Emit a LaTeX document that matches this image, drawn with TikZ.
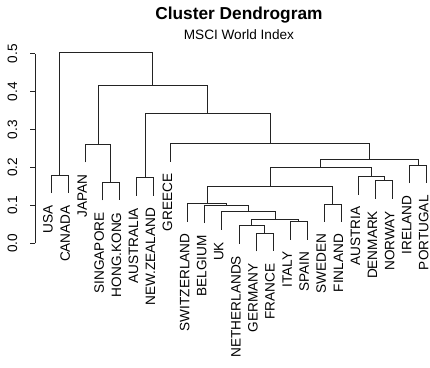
\documentclass[tikz,border=0pt]{standalone}
\usepackage{fontspec}
\setmainfont{Liberation Sans}
\definecolor{treeGray}{RGB}{35,35,35}
\newcommand\lblsize{\fontsize{13.6}{16}\selectfont}
\newcommand\hang{0.0475}

\begin{document}
\begin{tikzpicture}[
  x=1pt, y=1pt,
  branch/.style={line width=0.75pt, draw=treeGray},
  leaflabel/.style={rotate=90, anchor=east, inner sep=0pt, font=\lblsize},
  ticklabel/.style={rotate=90, anchor=base, inner sep=0pt, font=\lblsize}
]
\useasboundingbox (0,0) rectangle (430,367);

\node[anchor=base, font=\fontsize{17.3}{20}\selectfont\bfseries] (title) at (238.9,347.5) {Cluster Dendrogram};
\node[anchor=base, font=\lblsize] (subtitle) at (238.9,327.6) {MSCI World Index};

% height axis
\begin{scope}[y=379pt, yshift=123.7pt]
\coordinate (axbot) at (35,0);
\coordinate (axtop) at (35,0.5);
\draw[branch] (axbot) -- (axtop);
\foreach \t [count=\i] in {0.0,0.1,0.2,0.3,0.4,0.5} {
  \coordinate (tick\i) at (35,\t);
  \node[ticklabel] (tl\i) at (17.2,\t) {\t};
  \draw[branch] (tick\i) -- ++(-5,0);
}
\end{scope}

% leaves and merges, x = leaf index, y = height
\begin{scope}[x=17.08pt, y=379pt, shift={(51pt,123.7pt)}]
\coordinate (usa) at (0,{0.180-\hang});
\coordinate (canada) at (1,{0.180-\hang});
\coordinate (japan) at (2,{0.261-\hang});
\coordinate (singapore) at (3,{0.161-\hang});
\coordinate (hongkong) at (4,{0.161-\hang});
\coordinate (australia) at (5,{0.173-\hang});
\coordinate (newzealand) at (6,{0.173-\hang});
\coordinate (greece) at (7,{0.263-\hang});
\coordinate (switzerland) at (8,{0.105-\hang});
\coordinate (belgium) at (9,{0.101-\hang});
\coordinate (uk) at (10,{0.083-\hang});
\coordinate (netherlands) at (11,{0.046-\hang});
\coordinate (germany) at (12,{0.026-\hang});
\coordinate (france) at (13,{0.026-\hang});
\coordinate (italy) at (14,{0.057-\hang});
\coordinate (spain) at (15,{0.057-\hang});
\coordinate (sweden) at (16,{0.104-\hang});
\coordinate (finland) at (17,{0.104-\hang});
\coordinate (austria) at (18,{0.176-\hang});
\coordinate (denmark) at (19,{0.165-\hang});
\coordinate (norway) at (20,{0.165-\hang});
\coordinate (ireland) at (21,{0.206-\hang});
\coordinate (portugal) at (22,{0.206-\hang});

\node[leaflabel] (usaL) at ([shift={(-3pt,-12pt)}]usa) {USA};
\node[leaflabel] (canadaL) at ([shift={(-3pt,-12pt)}]canada) {CANADA};
\node[leaflabel] (japanL) at ([shift={(-3pt,-12pt)}]japan) {JAPAN};
\node[leaflabel] (singaporeL) at ([shift={(-3pt,-12pt)}]singapore) {SINGAPORE};
\node[leaflabel] (hongkongL) at ([shift={(-3pt,-12pt)}]hongkong) {HONG.KONG};
\node[leaflabel] (australiaL) at ([shift={(-3pt,-12pt)}]australia) {AUSTRALIA};
\node[leaflabel] (newzealandL) at ([shift={(-3pt,-12pt)}]newzealand) {NEW.ZEALAND};
\node[leaflabel] (greeceL) at ([shift={(-3pt,-12pt)}]greece) {GREECE};
\node[leaflabel] (switzerlandL) at ([shift={(-3pt,-12pt)}]switzerland) {SWITZERLAND};
\node[leaflabel] (belgiumL) at ([shift={(-3pt,-12pt)}]belgium) {BELGIUM};
\node[leaflabel] (ukL) at ([shift={(-3pt,-12pt)}]uk) {UK};
\node[leaflabel] (netherlandsL) at ([shift={(-3pt,-12pt)}]netherlands) {NETHERLANDS};
\node[leaflabel] (germanyL) at ([shift={(-3pt,-12pt)}]germany) {GERMANY};
\node[leaflabel] (franceL) at ([shift={(-3pt,-12pt)}]france) {FRANCE};
\node[leaflabel] (italyL) at ([shift={(-3pt,-12pt)}]italy) {ITALY};
\node[leaflabel] (spainL) at ([shift={(-3pt,-12pt)}]spain) {SPAIN};
\node[leaflabel] (swedenL) at ([shift={(-3pt,-12pt)}]sweden) {SWEDEN};
\node[leaflabel] (finlandL) at ([shift={(-3pt,-12pt)}]finland) {FINLAND};
\node[leaflabel] (austriaL) at ([shift={(-3pt,-12pt)}]austria) {AUSTRIA};
\node[leaflabel] (denmarkL) at ([shift={(-3pt,-12pt)}]denmark) {DENMARK};
\node[leaflabel] (norwayL) at ([shift={(-3pt,-12pt)}]norway) {NORWAY};
\node[leaflabel] (irelandL) at ([shift={(-3pt,-12pt)}]ireland) {IRELAND};
\node[leaflabel] (portugalL) at ([shift={(-3pt,-12pt)}]portugal) {PORTUGAL};

\coordinate (gerFra) at (12.5,0.026);
\coordinate (nethGF) at (11.75,0.046);
\coordinate (itaSpa) at (14.5,0.057);
\coordinate (core) at (13.125,0.063);
\coordinate (ukCore) at (11.5625,0.083);
\coordinate (belUk) at (10.28125,0.101);
\coordinate (swiBel) at (9.140625,0.105);
\coordinate (sweFin) at (16.5,0.104);
\coordinate (euroW) at (12.8203,0.151);
\coordinate (denNor) at (19.5,0.165);
\coordinate (autDN) at (18.75,0.176);
\coordinate (euroN) at (15.7852,0.200);
\coordinate (ireOr) at (21.5,0.206);
\coordinate (europe) at (18.6426,0.222);
\coordinate (greEu) at (12.8213,0.263);
\coordinate (ausNz) at (5.5,0.173);
\coordinate (pacEu) at (9.1606,0.343);
\coordinate (sinHk) at (3.5,0.161);
\coordinate (asia) at (2.75,0.261);
\coordinate (restW) at (5.9553,0.417);
\coordinate (usaCan) at (0.5,0.180);
\coordinate (world) at (3.2277,0.503);

\draw[branch] (germany) |- (gerFra) -| (france);
\draw[branch] (netherlands) |- (nethGF) -| (gerFra);
\draw[branch] (italy) |- (itaSpa) -| (spain);
\draw[branch] (nethGF) |- (core) -| (itaSpa);
\draw[branch] (uk) |- (ukCore) -| (core);
\draw[branch] (belgium) |- (belUk) -| (ukCore);
\draw[branch] (switzerland) |- (swiBel) -| (belUk);
\draw[branch] (sweden) |- (sweFin) -| (finland);
\draw[branch] (swiBel) |- (euroW) -| (sweFin);
\draw[branch] (denmark) |- (denNor) -| (norway);
\draw[branch] (austria) |- (autDN) -| (denNor);
\draw[branch] (euroW) |- (euroN) -| (autDN);
\draw[branch] (ireland) |- (ireOr) -| (portugal);
\draw[branch] (euroN) |- (europe) -| (ireOr);
\draw[branch] (greece) |- (greEu) -| (europe);
\draw[branch] (australia) |- (ausNz) -| (newzealand);
\draw[branch] (ausNz) |- (pacEu) -| (greEu);
\draw[branch] (singapore) |- (sinHk) -| (hongkong);
\draw[branch] (japan) |- (asia) -| (sinHk);
\draw[branch] (asia) |- (restW) -| (pacEu);
\draw[branch] (usa) |- (usaCan) -| (canada);
\draw[branch] (usaCan) |- (world) -| (restW);
\end{scope}
\end{tikzpicture}
\end{document}
